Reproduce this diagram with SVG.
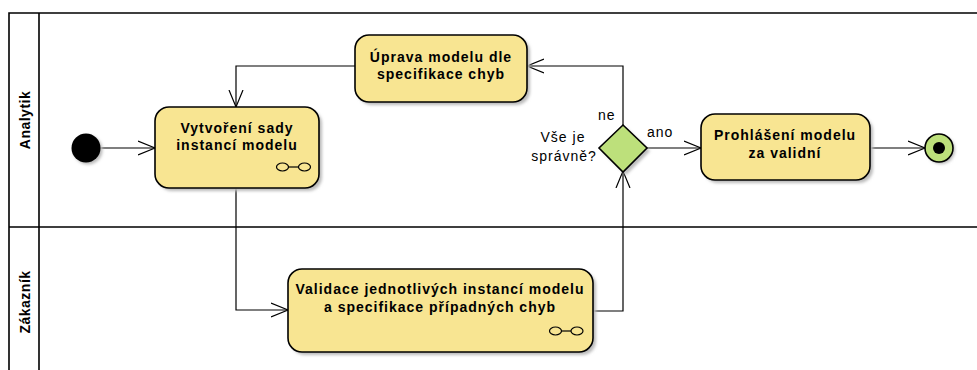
<svg xmlns="http://www.w3.org/2000/svg" width="977" height="370" viewBox="0 0 977 370">
<defs>
<marker id="arr" markerWidth="20" markerHeight="16" refX="17" refY="8" orient="auto" markerUnits="userSpaceOnUse">
<path d="M0,1 L17,8 L0,15" fill="none" stroke="#000" stroke-width="1.2"/>
</marker>
<filter id="sh" x="-10%" y="-10%" width="130%" height="130%">
<feGaussianBlur stdDeviation="1.5"/>
</filter>
</defs>
<style>
.frame{fill:none;stroke:#000;stroke-width:1.6}
.act{fill:#F8E592;stroke:#000;stroke-width:1.6}
.shadow{fill:#bbb;filter:url(#sh)}
.t{font-family:"Liberation Sans",Arial,sans-serif;font-size:14px;font-weight:bold;letter-spacing:1px;text-anchor:middle;fill:#000}
.lbl{font-family:"Liberation Sans",Arial,sans-serif;font-size:14px;letter-spacing:1px;fill:#000}
.lane{font-family:"Liberation Sans",Arial,sans-serif;font-size:14px;font-weight:bold;letter-spacing:0.5px;text-anchor:middle;fill:#000}
.c{fill:none;stroke:#000;stroke-width:1.2}
.rake{fill:none;stroke:#000;stroke-width:1.2}
</style>
<rect width="977" height="370" fill="#fff"/>
<g id="frame">
<path class="frame" d="M985,13 L9,13 L9,380 M39,13 L39,380 M9,227 L985,227"/>
<text class="lane" transform="translate(30,120) rotate(-90)">Analytik</text>
<text class="lane" transform="translate(30,302) rotate(-90)">Zákazník</text>
</g>
<g id="connectors">
<path class="c" d="M100,148 L155,148" marker-end="url(#arr)"/>
<path class="c" d="M355,66 L236,66 L236,107" marker-end="url(#arr)"/>
<path class="c" d="M623,125 L623,66 L527,66" marker-end="url(#arr)"/>
<path class="c" d="M236,188 L236,310 L288,310" marker-end="url(#arr)"/>
<path class="c" d="M593,311 L623,311 L623,171" marker-end="url(#arr)"/>
<path class="c" d="M647,148 L701,148" marker-end="url(#arr)"/>
<path class="c" d="M870,148 L925,148" marker-end="url(#arr)"/>
<text class="lbl" x="598" y="120">ne</text>
<text class="lbl" x="647" y="137">ano</text>
</g>
<g id="initial">
<circle cx="88" cy="150" r="14.5" fill="#bbb" filter="url(#sh)"/>
<circle cx="86" cy="148" r="14.5" fill="#000"/>
</g>
<g id="vytvoreni">
<rect class="shadow" x="158" y="110" width="164" height="81" rx="14"/>
<rect class="act" x="155" y="107" width="164" height="81" rx="14"/>
<text class="t" x="237" y="133">Vytvoření sady</text>
<text class="t" x="237" y="150">instancí modelu</text>
<g class="rake"><ellipse cx="282.5" cy="167" rx="6" ry="4"/><ellipse cx="304.5" cy="167" rx="6" ry="4"/><path d="M288.5,167 L298.5,167"/></g>
</g>
<g id="uprava">
<rect class="shadow" x="358" y="38" width="172" height="67" rx="14"/>
<rect class="act" x="355" y="35" width="172" height="67" rx="14"/>
<text class="t" x="441" y="62">Úprava modelu dle</text>
<text class="t" x="441" y="79">specifikace chyb</text>
</g>
<g id="decision">
<path d="M626,128 L650,151 L626,175 L602,151 Z" fill="#bbb" filter="url(#sh)"/>
<path d="M623,125 L647,148 L623,172 L599,148 Z" fill="#BDE07B" stroke="#000" stroke-width="1.6"/>
<text class="lbl" x="563" y="142" text-anchor="middle">Vše je</text>
<text class="lbl" x="564" y="161" text-anchor="middle">správně?</text>
</g>
<g id="prohlaseni">
<rect class="shadow" x="704" y="117" width="169" height="66" rx="14"/>
<rect class="act" x="701" y="114" width="169" height="66" rx="14"/>
<text class="t" x="785" y="140">Prohlášení modelu</text>
<text class="t" x="785" y="158">za validní</text>
</g>
<g id="final">
<circle cx="941" cy="150" r="14" fill="#bbb" filter="url(#sh)"/>
<circle cx="939" cy="148" r="14" fill="#BDE07B" stroke="#000" stroke-width="1.6"/>
<circle cx="939" cy="148" r="6" fill="#000"/>
</g>
<g id="validace">
<rect class="shadow" x="291" y="272" width="305" height="83" rx="14"/>
<rect class="act" x="288" y="269" width="305" height="83" rx="14"/>
<text class="t" x="440" y="294">Validace jednotlivých instancí modelu</text>
<text class="t" x="440" y="312">a specifikace případných chyb</text>
<g class="rake"><ellipse cx="555.5" cy="331" rx="6" ry="4"/><ellipse cx="577" cy="331" rx="6" ry="4"/><path d="M561.5,331 L571,331"/></g>
</g>
</svg>
